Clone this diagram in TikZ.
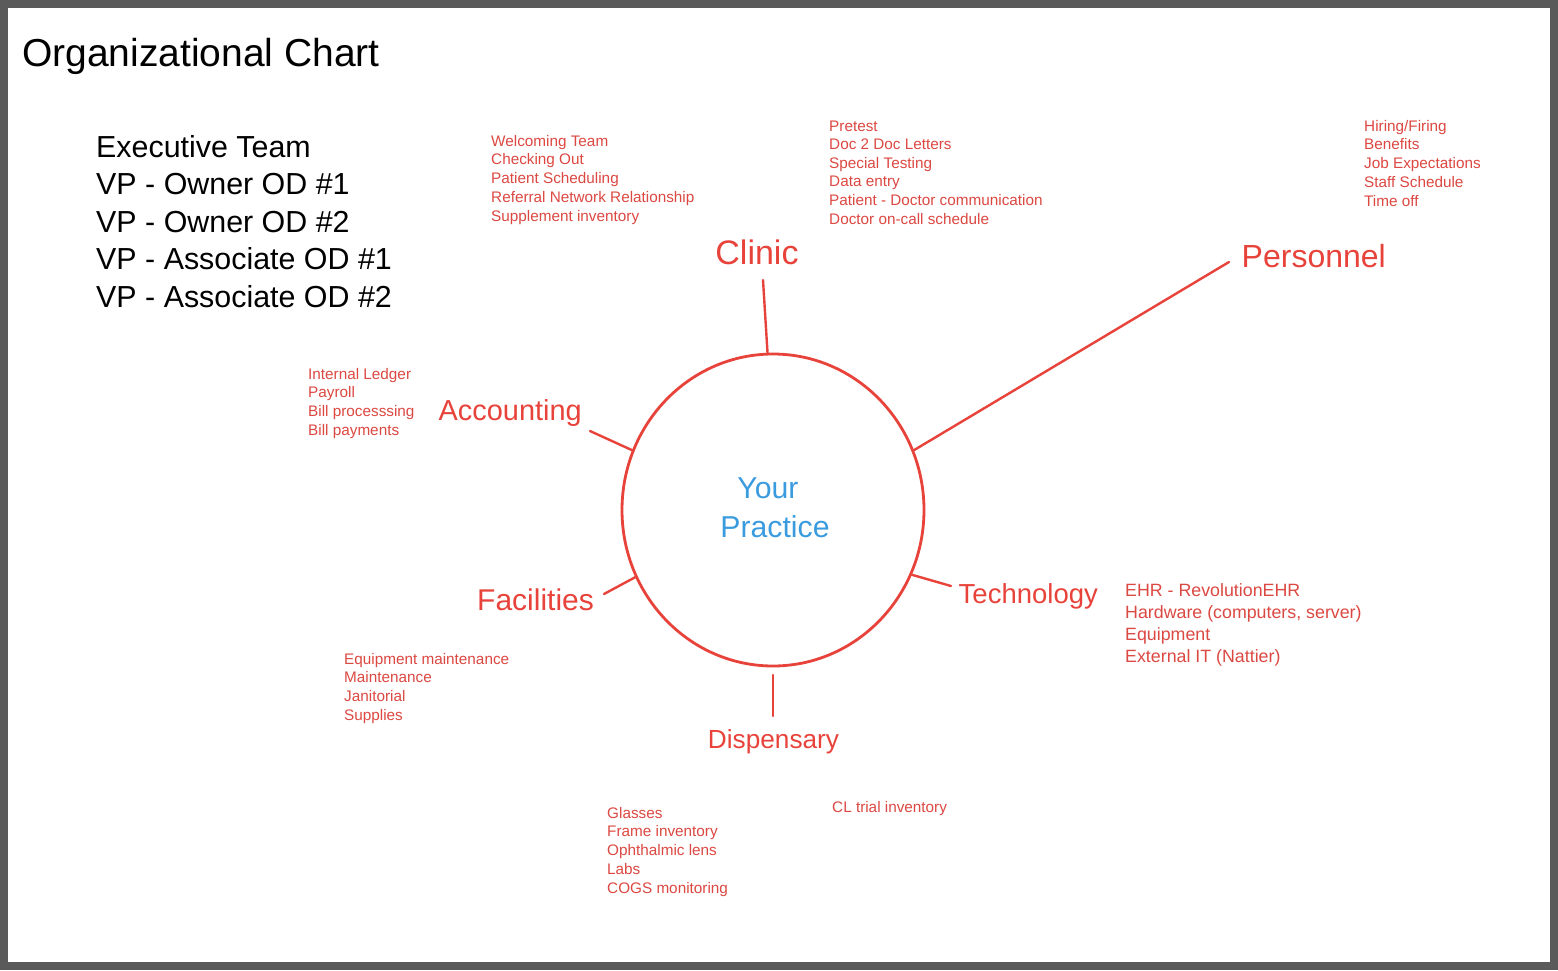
\documentclass[tikz,border=0pt]{standalone}
\usepackage{fontspec}
\setmainfont{Liberation Sans}
\usetikzlibrary{shapes.geometric}
\definecolor{rd}{HTML}{E8433B}
\definecolor{rdtxt}{HTML}{DC4842}
\definecolor{bl}{HTML}{3B9BDF}
\definecolor{framegray}{HTML}{5A5A5A}
\newcommand{\fsz}[2]{\fontsize{#1}{#2}\selectfont}
\newcommand{\stack}[1]{\vtop{#1}}
\begin{document}
\begin{tikzpicture}[x=1pt,y=-1pt,
  lbl/.style={text=rd,inner sep=0},
  lst/.style={text=rdtxt,inner sep=0,anchor=base west,font=\fsz{15.3}{18.75}},
  spoke/.style={draw=rd,line width=2.4pt,line cap=round}]
\fill[framegray] (0,0) rectangle (1558,970);
\fill[white] (8,8) rectangle (1550,962);
\useasboundingbox (0,0) rectangle (1558,970);

% title and executive team
\node[inner sep=0,anchor=base west,font=\fsz{39}{47}] (title) at (22,66) {Organizational Chart};
\node[inner sep=0,anchor=base west,font=\fsz{30.4}{37.5}] (exec) at (96,157)
  {\stack{\hbox{Executive Team}\hbox{VP - Owner OD \#1}\hbox{VP - Owner OD \#2}\hbox{VP - Associate OD \#1}\hbox{VP - Associate OD \#2}}};

% hub
\node[ellipse,draw=rd,line width=2.8pt,minimum width=302pt,minimum height=312pt,inner sep=0] (hub) at (773,510) {};
\node[inner sep=0,anchor=base,text=bl,font=\fsz{30.2}{36}] (your) at (768,498) {Your};
\node[inner sep=0,anchor=base,text=bl,font=\fsz{30.2}{36}] (practice) at (775,537) {Practice};

% main labels
\node[lbl,anchor=base,font=\fsz{34}{40}] (clinic) at (757,264) {Clinic};
\node[lbl,anchor=base west,font=\fsz{32}{38}] (personnel) at (1241.5,267) {Personnel};
\node[lbl,anchor=base west,font=\fsz{28.9}{34}] (accounting) at (438.5,420) {Accounting};
\node[lbl,anchor=base west,font=\fsz{30}{36}] (facilities) at (477,610) {Facilities};
\node[lbl,anchor=base west,font=\fsz{27.5}{33}] (technology) at (958.5,603) {Technology};
\node[lbl,anchor=base,font=\fsz{26.2}{31}] (dispensary) at (773.5,748) {Dispensary};

% spokes
\coordinate (clinicEnd) at (763,280);
\coordinate (personnelEnd) at (1229,262);
\coordinate (accountingEnd) at (590,431);
\coordinate (facilitiesEnd) at (604,594);
\coordinate (technologyEnd) at (951,586);
\coordinate (dispTop) at (773,675);
\coordinate (dispEnd) at (773,716);
\draw[spoke] (hub.92) -- (clinicEnd);
\draw[spoke] (hub.23) -- (personnelEnd);
\draw[spoke] (hub.157) -- (accountingEnd);
\draw[spoke] (hub.206) -- (facilitiesEnd);
\draw[spoke] (hub.335) -- (technologyEnd);
\draw[spoke] (dispTop) -- (dispEnd);

% detail lists
\node[lst] (clinicA) at (491,146)
  {\stack{\hbox{Welcoming Team}\hbox{Checking Out}\hbox{Patient Scheduling}\hbox{Referral Network Relationship}\hbox{Supplement inventory}}};
\node[lst,font=\fsz{15.3}{18.65}] (clinicB) at (829,131)
  {\stack{\hbox{Pretest}\hbox{Doc 2 Doc Letters}\hbox{Special Testing}\hbox{Data entry}\hbox{Patient - Doctor communication}\hbox{Doctor on-call schedule}}};
\node[lst] (personnelL) at (1364,131)
  {\stack{\hbox{Hiring/Firing}\hbox{Benefits}\hbox{Job Expectations}\hbox{Staff Schedule}\hbox{Time off}}};
\node[lst] (accountingL) at (308,379)
  {\stack{\hbox{Internal Ledger}\hbox{Payroll}\hbox{Bill processsing}\hbox{Bill payments}}};
\node[lst] (facilitiesL) at (344,664)
  {\stack{\hbox{Equipment maintenance}\hbox{Maintenance}\hbox{Janitorial}\hbox{Supplies}}};
\node[lst,font=\fsz{17.8}{22}] (technologyL) at (1125,596)
  {\stack{\hbox{EHR - RevolutionEHR}\hbox{Hardware (computers, server)}\hbox{Equipment}\hbox{External IT (Nattier)}}};
\node[lst] (dispensaryL) at (607,818)
  {\stack{\hbox{Glasses}\hbox{Frame inventory}\hbox{Ophthalmic lens}\hbox{Labs}\hbox{COGS monitoring}}};
\node[lst] (dispensaryR) at (832,812) {CL trial inventory};
\end{tikzpicture}
\end{document}
